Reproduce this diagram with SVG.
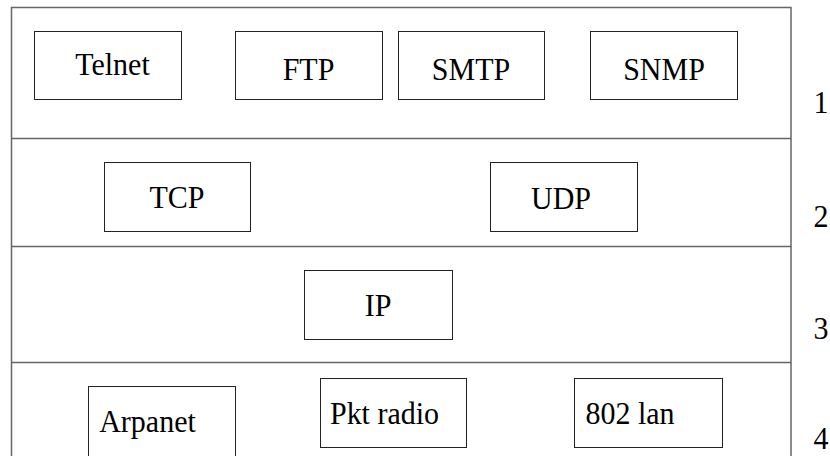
<svg xmlns="http://www.w3.org/2000/svg" width="830" height="456" viewBox="0 0 830 456">
<style>
.frame{fill:none;stroke:#666;stroke-width:1.5}
.box{fill:#fff;stroke:#222;stroke-width:1}
.t{fill:#000;text-anchor:middle}
</style>
<rect width="830" height="456" fill="#fff"/>
<g id="layers">
<path class="frame" d="M11.5 460 V7.5 H791 V460"/>
<line class="frame" x1="11.5" y1="138.5" x2="791" y2="138.5"/>
<line class="frame" x1="11.5" y1="246.5" x2="791" y2="246.5"/>
<line class="frame" x1="11.5" y1="362.5" x2="791" y2="362.5"/>
</g>
<g id="telnet"><rect class="box" x="34.5" y="31.5" width="147" height="68"/><text class="t" font-family="'Liberation Serif'" font-size="30" transform="translate(112.5,75) scale(1,1.07)">Telnet</text></g>
<g id="ftp"><rect class="box" x="235.5" y="31.5" width="147" height="68"/><text class="t" font-family="'Liberation Serif'" font-size="30" transform="translate(308.5,80) scale(1,1.07)">FTP</text></g>
<g id="smtp"><rect class="box" x="398.5" y="31.5" width="146" height="68"/><text class="t" font-family="'Liberation Serif'" font-size="30" transform="translate(471,80) scale(1,1.07)">SMTP</text></g>
<g id="snmp"><rect class="box" x="590.5" y="31.5" width="147" height="68"/><text class="t" font-family="'Liberation Serif'" font-size="30" transform="translate(664,80) scale(1,1.07)">SNMP</text></g>
<g id="tcp"><rect class="box" x="104.5" y="162.5" width="146" height="69"/><text class="t" font-family="'Liberation Serif'" font-size="30" transform="translate(177,208) scale(1,1.07)">TCP</text></g>
<g id="udp"><rect class="box" x="490.5" y="162.5" width="147" height="69"/><text class="t" font-family="'Liberation Serif'" font-size="30" transform="translate(561,209) scale(1,1.07)">UDP</text></g>
<g id="ip"><rect class="box" x="304.5" y="270.5" width="148" height="69"/><text class="t" font-family="'Liberation Serif'" font-size="30" transform="translate(378,316) scale(1,1.07)">IP</text></g>
<g id="arpanet"><rect class="box" x="88.5" y="386.5" width="147" height="70"/><text class="t" font-family="'Liberation Serif'" font-size="30" transform="translate(147.5,432) scale(1,1.07)">Arpanet</text></g>
<g id="pktradio"><rect class="box" x="320.5" y="378.5" width="146" height="69"/><text class="t" font-family="'Liberation Serif'" font-size="30" transform="translate(384.5,424) scale(1,1.07)">Pkt radio</text></g>
<g id="lan802"><rect class="box" x="574.5" y="378.5" width="148" height="69"/><text class="t" font-family="'Liberation Serif'" font-size="30" transform="translate(630,424) scale(1,1.07)">802 lan</text></g>
<g id="labels">
<text class="t" font-family="'Liberation Serif'" font-size="30" transform="translate(821,113) scale(1,1.07)">1</text>
<text class="t" font-family="'Liberation Serif'" font-size="30" transform="translate(821,227) scale(1,1.07)">2</text>
<text class="t" font-family="'Liberation Serif'" font-size="30" transform="translate(821,339) scale(1,1.07)">3</text>
<text class="t" font-family="'Liberation Serif'" font-size="30" transform="translate(821,449) scale(1,1.07)">4</text>
</g>
<g id="connectors"></g>
</svg>
